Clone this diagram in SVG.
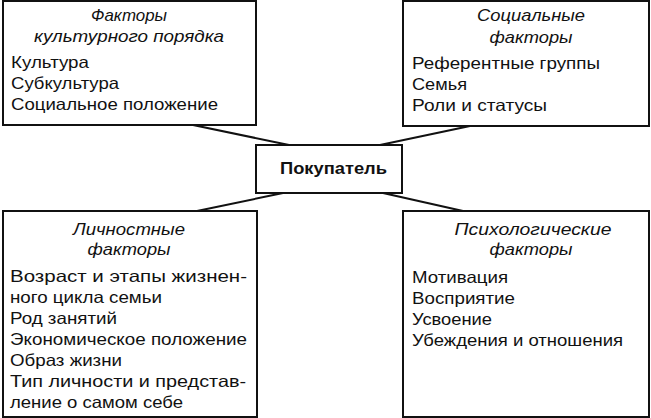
<svg xmlns="http://www.w3.org/2000/svg" width="651" height="418" viewBox="0 0 651 418">
<style>
.box{fill:#fff;stroke:#111;stroke-width:2}
.ln{stroke:#111;stroke-width:2;fill:none}
text{font-family:"Liberation Sans",Arial,sans-serif;font-size:16.5px;fill:#111}
.t{font-style:italic;text-anchor:middle}
.b{font-weight:bold;font-size:17px}
</style>
<rect width="651" height="418" fill="#fff"/>
<g id="connectors">
<line class="ln" x1="193" y1="125" x2="289" y2="145"/>
<line class="ln" x1="470" y1="126" x2="380" y2="145"/>
<line class="ln" x1="283" y1="193" x2="197" y2="211"/>
<line class="ln" x1="383" y1="193" x2="463" y2="211"/>
</g>
<g id="cultural">
<rect class="box" x="3" y="1" width="253" height="124"/>
<text class="t" x="129" y="21" textLength="76" lengthAdjust="spacingAndGlyphs">Факторы</text>
<text class="t" x="129" y="42" textLength="190" lengthAdjust="spacingAndGlyphs">культурного порядка</text>
<text x="11" y="68" textLength="78" lengthAdjust="spacingAndGlyphs">Культура</text>
<text x="11" y="89" textLength="108" lengthAdjust="spacingAndGlyphs">Субкультура</text>
<text x="11" y="110" textLength="207" lengthAdjust="spacingAndGlyphs">Социальное положение</text>
</g>
<g id="social">
<rect class="box" x="403" y="1" width="246" height="125"/>
<text class="t" x="531" y="21" textLength="108" lengthAdjust="spacingAndGlyphs">Социальные</text>
<text class="t" x="531" y="43" textLength="83" lengthAdjust="spacingAndGlyphs">факторы</text>
<text x="412" y="69" textLength="188" lengthAdjust="spacingAndGlyphs">Референтные группы</text>
<text x="412" y="90" textLength="55" lengthAdjust="spacingAndGlyphs">Семья</text>
<text x="412" y="111" textLength="135" lengthAdjust="spacingAndGlyphs">Роли и статусы</text>
</g>
<g id="buyer">
<rect class="box" x="256" y="145" width="146" height="48"/>
<text class="b" x="280" y="174" textLength="107" lengthAdjust="spacingAndGlyphs">Покупатель</text>
</g>
<g id="personal">
<rect class="box" x="3" y="211" width="254" height="206"/>
<text class="t" x="129" y="235" textLength="112" lengthAdjust="spacingAndGlyphs">Личностные</text>
<text class="t" x="129" y="255" textLength="83" lengthAdjust="spacingAndGlyphs">факторы</text>
<text x="10" y="282" textLength="237" lengthAdjust="spacingAndGlyphs">Возраст и этапы жизнен-</text>
<text x="10" y="303" textLength="152" lengthAdjust="spacingAndGlyphs">ного цикла семьи</text>
<text x="10" y="324" textLength="107" lengthAdjust="spacingAndGlyphs">Род занятий</text>
<text x="10" y="345" textLength="237" lengthAdjust="spacingAndGlyphs">Экономическое положение</text>
<text x="10" y="366" textLength="112" lengthAdjust="spacingAndGlyphs">Образ жизни</text>
<text x="10" y="387" textLength="236" lengthAdjust="spacingAndGlyphs">Тип личности и представ-</text>
<text x="10" y="408" textLength="173" lengthAdjust="spacingAndGlyphs">ление о самом себе</text>
</g>
<g id="psychological">
<rect class="box" x="403" y="211" width="246" height="206"/>
<text class="t" x="533" y="235" textLength="157" lengthAdjust="spacingAndGlyphs">Психологические</text>
<text class="t" x="531" y="255" textLength="83" lengthAdjust="spacingAndGlyphs">факторы</text>
<text x="412" y="283" textLength="96" lengthAdjust="spacingAndGlyphs">Мотивация</text>
<text x="412" y="304" textLength="103" lengthAdjust="spacingAndGlyphs">Восприятие</text>
<text x="412" y="325" textLength="80" lengthAdjust="spacingAndGlyphs">Усвоение</text>
<text x="412" y="346" textLength="211" lengthAdjust="spacingAndGlyphs">Убеждения и отношения</text>
</g>
</svg>
